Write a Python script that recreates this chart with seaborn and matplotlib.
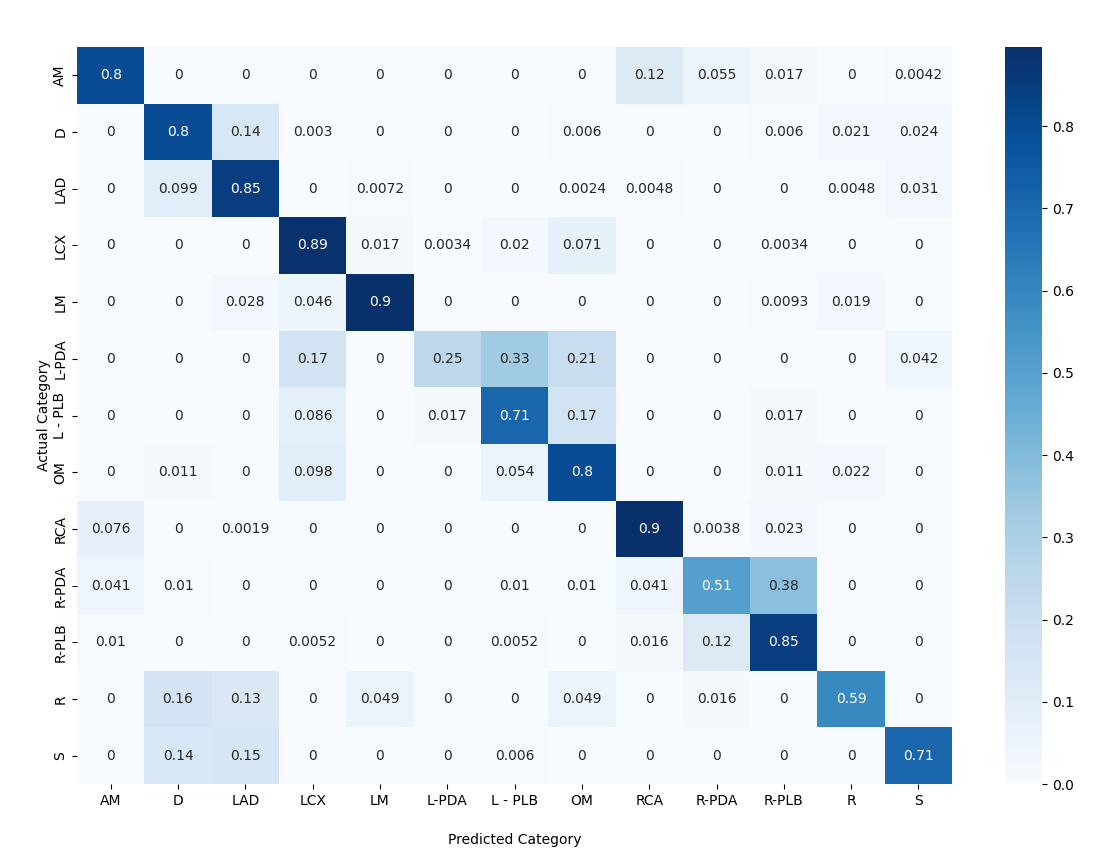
import numpy as np
import pandas as pd
import matplotlib
matplotlib.use("Agg")
import matplotlib.pyplot as plt
import seaborn as sns

categories = ["AM", "D", "LAD", "LCX", "LM", "L-PDA", "L - PLB", "OM",
              "RCA", "R-PDA", "R-PLB", "R", "S"]

row_AM    = [0.8, 0, 0, 0, 0, 0, 0, 0, 0.12, 0.055, 0.017, 0, 0.0042]
row_D     = [0, 0.8, 0.14, 0.003, 0, 0, 0, 0.006, 0, 0, 0.006, 0.021, 0.024]
row_LAD   = [0, 0.099, 0.85, 0, 0.0072, 0, 0, 0.0024, 0.0048, 0, 0, 0.0048, 0.031]
row_LCX   = [0, 0, 0, 0.89, 0.017, 0.0034, 0.02, 0.071, 0, 0, 0.0034, 0, 0]
row_LM    = [0, 0, 0.028, 0.046, 0.896, 0, 0, 0, 0, 0, 0.0093, 0.019, 0]
row_LPDA  = [0, 0, 0, 0.17, 0, 0.25, 0.33, 0.21, 0, 0, 0, 0, 0.042]
row_LPLB  = [0, 0, 0, 0.086, 0, 0.017, 0.71, 0.17, 0, 0, 0.017, 0, 0]
row_OM    = [0, 0.011, 0, 0.098, 0, 0, 0.054, 0.8, 0, 0, 0.011, 0.022, 0]
row_RCA   = [0.076, 0, 0.0019, 0, 0, 0, 0, 0, 0.896, 0.0038, 0.023, 0, 0]
row_RPDA  = [0.041, 0.01, 0, 0, 0, 0, 0.01, 0.01, 0.041, 0.51, 0.38, 0, 0]
row_RPLB  = [0.01, 0, 0, 0.0052, 0, 0, 0.0052, 0, 0.016, 0.12, 0.85, 0, 0]
row_R     = [0, 0.16, 0.13, 0, 0.049, 0, 0, 0.049, 0, 0.016, 0, 0.59, 0]
row_S     = [0, 0.14, 0.15, 0, 0, 0, 0.006, 0, 0, 0, 0, 0, 0.71]

rows = [row_AM, row_D, row_LAD, row_LCX, row_LM, row_LPDA, row_LPLB, row_OM,
        row_RCA, row_RPDA, row_RPLB, row_R, row_S]

df = pd.DataFrame(rows, index=categories, columns=categories)

plt.rcParams['font.family'] = ['DejaVu Sans']
fig = plt.figure(figsize=(11.02, 8.56), dpi=100)
ax = fig.add_axes([0.0699, 0.0841, 0.7941, 0.8609])
cax = fig.add_axes([0.912, 0.0841, 0.034, 0.8609])

sns.heatmap(df, annot=True, fmt=".2g", cmap="Blues", ax=ax, cbar_ax=cax,
            annot_kws={"fontsize": 10})

ax.set_xticklabels(categories, rotation=0, fontsize=10)
ax.set_yticklabels(categories, rotation=90, fontsize=10, va="center")
ax.set_xlabel("Predicted Category", fontsize=10, labelpad=18)
ax.set_ylabel("Actual Category", fontsize=10, labelpad=2)
cax.tick_params(labelsize=10)

fig.savefig("out.png", dpi=100, facecolor="white")
